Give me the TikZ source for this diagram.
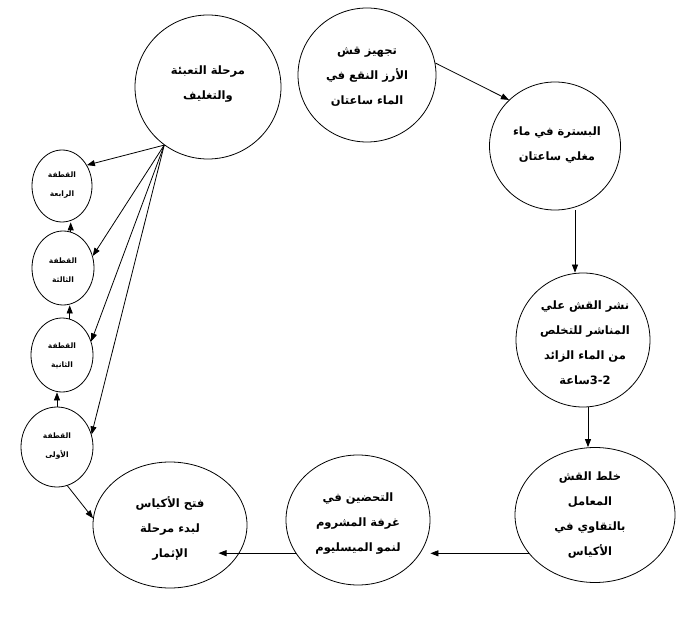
\documentclass[tikz,border=0pt]{standalone}
\usepackage{fontspec}
\usetikzlibrary{shapes.geometric,arrows.meta}
\TeXXeTstate=1
\newfontfamily\arabicfont[Script=Arabic]{DejaVu Sans}
\tikzset{
  circ/.style={draw, ellipse, line width=0.8pt, inner sep=0pt},
  bigtext/.style={align=center, font=\arabicfont\bfseries\fontsize{11.5}{25}\selectfont},
  smalltext/.style={align=center, font=\arabicfont\bfseries\fontsize{7.5}{19}\selectfont},
  arr/.style={line width=0.8pt, -{Triangle[length=8pt,width=6pt]}},
}
\begin{document}
\begin{tikzpicture}[x=1pt,y=-1pt]
\useasboundingbox (0,0) rectangle (698,617);
% big circles
\node[circ, minimum width=138pt, minimum height=134pt] (A) at (367,75) {};
\node[circ, minimum width=131pt, minimum height=128pt] (B) at (555,146) {};
\node[circ, minimum width=134pt, minimum height=134pt] (C) at (583,340) {};
\node[circ, minimum width=160pt, minimum height=135pt] (D) at (595,515) {};
\node[circ, minimum width=144pt, minimum height=130pt] (E) at (358,520) {};
\node[circ, minimum width=154pt, minimum height=126pt] (F) at (170,525) {};
\node[circ, minimum width=146pt, minimum height=144pt] (G) at (208,87) {};
% small circles
\node[circ, minimum width=60pt, minimum height=72pt] (Q4) at (62,186) {};
\node[circ, minimum width=62pt, minimum height=74pt] (Q3) at (63,268) {};
\node[circ, minimum width=62pt, minimum height=74pt] (Q2) at (62,355) {};
\node[circ, minimum width=72pt, minimum height=80pt] (Q1) at (57,447) {};
% texts
\node[bigtext] (tA) at (367,77) {\beginR تجهيز قش\endR\\\beginR الأرز النقع في\endR\\\beginR الماء ساعتان\endR};
\node[bigtext] (tB) at (557,145) {\beginR البسترة في ماء\endR\\\beginR مغلي ساعتان\endR};
\node[bigtext] (tC) at (585,343) {\beginR نشر القش علي\endR\\\beginR المناشر للتخلص\endR\\\beginR من الماء الزائد\endR\\\beginR ساعة\endR3-2};
\node[bigtext] (tD) at (590,515) {\beginR خلط القش\endR\\\beginR المعامل\endR\\\beginR بالتقاوي في\endR\\\beginR الأكياس\endR};
\node[bigtext] (tE) at (358,524) {\beginR التحضين في\endR\\\beginR غرفة المشروم\endR\\\beginR لنمو الميسليوم\endR};
\node[bigtext] (tF) at (170,528) {\beginR فتح الأكياس\endR\\\beginR لبدء مرحلة\endR\\\beginR الإثمار\endR};
\node[bigtext] (tG) at (208,84) {\beginR مرحلة التعبئة\endR\\\beginR والتغليف\endR};
\node[smalltext] (tQ4) at (62,185) {\beginR القطفة\endR\\\beginR الرابعة\endR};
\node[smalltext] (tQ3) at (63,270) {\beginR القطفة\endR\\\beginR الثالثة\endR};
\node[smalltext] (tQ2) at (62,356) {\beginR القطفة\endR\\\beginR الثانية\endR};
\node[smalltext] (tQ1) at (57,446) {\beginR القطفة\endR\\\beginR الأولى\endR};
% connectors
\coordinate (xbc) at (575,0);
\coordinate (xcd) at (588,0);
\draw[arr] (A.10) -- (B.135);
\draw[arr] (B.south -| xbc) -- (C.north -| xbc);
\draw[arr] (C.south -| xcd) -- (D.north -| xcd);
\draw[arr] (D.210) -- (D.210 -| E.east);
\draw[arr, shorten >=-18pt] (E.208) -- (E.208 -| F.334);
\draw[arr] (Q1.-75) -- (F.175);
\draw[arr] (G.233) -- (Q4.40);
\draw[arr] (G.233) -- (Q3.22);
\draw[arr] (G.233) -- (Q2.25);
\draw[arr] (G.233) -- (Q1.20);
\draw[arr] (Q1.north) -- (Q1.north |- Q2.south);
\draw[arr] (Q2.78) -- (Q2.78 |- Q3.south);
\draw[arr] (Q3.78) -- (Q3.78 |- Q4.south);
\end{tikzpicture}
\end{document}
